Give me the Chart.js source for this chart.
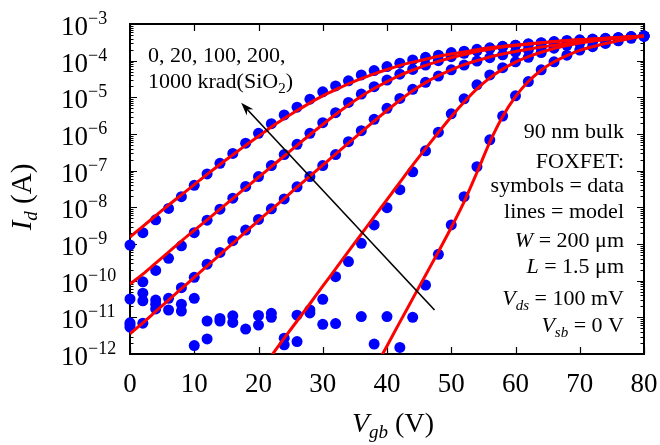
<!DOCTYPE html>
<html>
<head>
<meta charset="utf-8">
<script src="https://cdn.jsdelivr.net/npm/chart.js@4.4.1/dist/chart.umd.min.js"></script>
<style>
  html, body { margin: 0; padding: 0; background: #fff; }
  #wrap { width: 660px; height: 445px; position: relative; }
</style>
</head>
<body>
<div id="wrap"><canvas id="chart"></canvas></div>
<script>
// Gate voltage sweep (V)
const vgb = [0, 2, 4, 6, 8, 10, 12, 14, 16, 18, 20, 22, 24, 26, 28, 30, 32, 34, 36, 38, 40,
  42, 44, 46, 48, 50, 52, 54, 56, 58, 60, 62, 64, 66, 68, 70, 72, 74, 76, 78, 80];

// Measured log10(Id / A) for each dose, null = below the axis
const data1000 = [-9.03, -8.69, -8.34, -8.03, -7.71, -7.40, -7.09, -6.80, -6.53, -6.25,
  -5.98, -5.72, -5.48, -5.27, -5.05, -4.85, -4.69, -4.55, -4.39, -4.27,
  -4.16, -4.07, -3.98, -3.91, -3.85, -3.78, -3.74, -3.69, -3.65, -3.61,
  -3.58, -3.55, -3.52, -3.49, -3.47, -3.45, -3.42, -3.40, -3.38, -3.35, -3.33];
const data200 = [-10.50, -10.03, -9.72, -9.39, -9.05, -8.69, -8.35, -8.05, -7.75, -7.43,
  -7.16, -6.86, -6.56, -6.28, -5.98, -5.69, -5.42, -5.14, -4.91, -4.71,
  -4.53, -4.37, -4.24, -4.12, -4.00, -3.89, -3.80, -3.73, -3.67, -3.62,
  -3.58, -3.54, -3.51, -3.48, -3.45, -3.43, -3.41, -3.39, -3.37, -3.35, -3.33];
const data100 = [-11.20, -11.16, -10.77, -10.48, -10.19, -9.91, -9.55, -9.23, -8.91, -8.62,
  -8.33, -8.04, -7.77, -7.44, -7.16, -6.86, -6.56, -6.21, -5.91, -5.60,
  -5.30, -5.03, -4.78, -4.59, -4.42, -4.25, -4.12, -4.01, -3.92, -3.84,
  -3.77, -3.70, -3.64, -3.58, -3.53, -3.49, -3.45, -3.41, -3.38, -3.35, -3.33];
const data20 = [-11.27, -10.34, -10.53, -10.80, -10.64, -10.48, -11.10, -11.03, -10.96, -11.32,
  -10.95, -10.89, -11.57, -10.94, -10.80, -10.51, -9.89, -9.48, -8.98, -8.48,
  -8.01, -7.52, -7.03, -6.46, -5.95, -5.45, -5.04, -4.66, -4.39, -4.19,
  -4.03, -3.91, -3.78, -3.66, -3.58, -3.52, -3.47, -3.42, -3.38, -3.35, -3.33];
const data0 = [-11.15, -10.55, -10.64, null, -10.83, -11.77, -11.59, -11.10, -11.14, null,
  -11.21, -11.00, -11.75, -11.66, -10.88, -11.19, -11.17, null, -10.98, -11.73,
  -10.98, -11.82, -11.00, -10.12, -9.28, -8.48, -7.71, -6.89, -6.16, -5.51,
  -4.96, -4.57, -4.25, -4.03, -3.85, -3.71, -3.62, -3.53, -3.46, -3.39, -3.33];

// Model curves, log10(Id / A)
const model1000 = [-8.81, -8.52, -8.23, -7.94, -7.66, -7.38, -7.10, -6.83, -6.57, -6.31,
  -6.06, -5.81, -5.58, -5.36, -5.15, -4.96, -4.79, -4.63, -4.49, -4.36,
  -4.24, -4.13, -4.04, -3.96, -3.88, -3.82, -3.76, -3.70, -3.65, -3.61,
  -3.57, -3.54, -3.51, -3.48, -3.45, -3.43, -3.41, -3.39, -3.37, -3.35, -3.33];
const model200 = [-10.09, -9.82, -9.52, -9.22, -8.92, -8.63, -8.34, -8.05, -7.76, -7.47,
  -7.18, -6.89, -6.60, -6.31, -6.02, -5.74, -5.47, -5.21, -4.97, -4.76,
  -4.57, -4.40, -4.26, -4.13, -4.02, -3.92, -3.83, -3.75, -3.69, -3.63,
  -3.59, -3.55, -3.51, -3.48, -3.45, -3.43, -3.41, -3.39, -3.37, -3.35, -3.33];
const model100 = [-11.45, -11.15, -10.84, -10.53, -10.22, -9.91, -9.60, -9.29, -8.98, -8.67,
  -8.36, -8.06, -7.76, -7.45, -7.15, -6.85, -6.55, -6.25, -5.95, -5.65,
  -5.36, -5.08, -4.82, -4.60, -4.41, -4.25, -4.11, -4.00, -3.90, -3.82,
  -3.75, -3.69, -3.63, -3.58, -3.53, -3.49, -3.45, -3.41, -3.38, -3.35, -3.33];
const model20 = [null, null, null, null, null, null, null, null, null, null,
  null, -12.05, -11.57, -11.10, -10.63, -10.15, -9.68, -9.20, -8.73, -8.26,
  -7.79, -7.32, -6.85, -6.40, -5.96, -5.53, -5.13, -4.77, -4.47, -4.23,
  -4.04, -3.89, -3.77, -3.67, -3.59, -3.52, -3.47, -3.42, -3.38, -3.35, -3.33];
const model0 = [null, null, null, null, null, null, null, null, null, null,
  null, null, null, null, null, null, null, null, null, -12.42,
  -11.78, -11.13, -10.49, -9.85, -9.21, -8.55, -7.85, -7.05, -6.22, -5.52,
  -4.98, -4.57, -4.26, -4.03, -3.86, -3.72, -3.62, -3.53, -3.46, -3.39, -3.33];

// Tick labels
const xTicks = [0, 10, 20, 30, 40, 50, 60, 70, 80];
const yTickExps = [-3, -4, -5, -6, -7, -8, -9, -10, -11, -12];

const SERIF = '"Liberation Serif", "Times New Roman", serif';
function font(size, italic) {
  return (italic ? 'italic ' : '') + size + 'px ' + SERIF;
}

function toPoints(logs) {
  return vgb.map((v, i) => ({ x: v, y: logs[i] === null ? null : Math.pow(10, logs[i]) }));
}

function modelSet(logs) {
  return {
    data: toPoints(logs),
    showLine: true,
    borderColor: '#ff0000',
    borderWidth: 3,
    pointRadius: 0,
    cubicInterpolationMode: 'monotone'
  };
}

function dataSet(logs) {
  return {
    data: toPoints(logs),
    showLine: false,
    pointRadius: 5.5,
    pointBackgroundColor: '#0000ff',
    pointBorderWidth: 0,
    clip: false
  };
}

// draw a run of text pieces with mixed fonts / sub- and superscripts
function drawRich(ctx, parts, x, y, align) {
  let total = 0;
  parts.forEach(p => {
    ctx.font = p.font;
    p.w = ctx.measureText(p.text).width;
    total += p.w;
  });
  let cx = align === 'right' ? x - total : align === 'center' ? x - total / 2 : x;
  parts.forEach(p => {
    ctx.font = p.font;
    ctx.fillText(p.text, cx, y + (p.dy || 0));
    cx += p.w;
  });
}

const framePlugin = {
  id: 'frame',
  beforeDatasetsDraw(chart) {
    const ctx = chart.ctx;
    const a = chart.chartArea;
    const xs = chart.scales.x;
    const ys = chart.scales.y;
    ctx.save();
    ctx.strokeStyle = '#000';
    ctx.lineWidth = 2;
    ctx.strokeRect(a.left, a.top, a.right - a.left, a.bottom - a.top);

    ctx.lineWidth = 1.2;
    ctx.beginPath();
    xTicks.forEach(t => {
      const px = Math.round(xs.getPixelForValue(t)) + 0.5;
      ctx.moveTo(px, a.bottom); ctx.lineTo(px, a.bottom - 7);
      ctx.moveTo(px, a.top); ctx.lineTo(px, a.top + 7);
    });
    yTickExps.forEach(e => {
      const py = Math.round(ys.getPixelForValue(Math.pow(10, e))) + 0.5;
      ctx.moveTo(a.left, py); ctx.lineTo(a.left + 7, py);
      ctx.moveTo(a.right, py); ctx.lineTo(a.right - 7, py);
      if (e > -12) {
        for (let m = 2; m <= 9; m++) {
          const pm = Math.round(ys.getPixelForValue(m * Math.pow(10, e - 1))) + 0.5;
          ctx.moveTo(a.left, pm); ctx.lineTo(a.left + 3.5, pm);
          ctx.moveTo(a.right, pm); ctx.lineTo(a.right - 3.5, pm);
        }
      }
    });
    ctx.stroke();
    ctx.restore();
  },
  afterDatasetsDraw(chart) {
    const ctx = chart.ctx;
    const a = chart.chartArea;
    const xs = chart.scales.x;
    const ys = chart.scales.y;
    ctx.save();
    ctx.fillStyle = '#000';
    ctx.textBaseline = 'alphabetic';
    ctx.textAlign = 'left';

    // x tick labels
    xTicks.forEach(t => {
      drawRich(ctx, [{ text: String(t), font: font(27) }], xs.getPixelForValue(t), a.bottom + 38, 'center');
    });
    // y tick labels: 10 with a raised exponent
    yTickExps.forEach(e => {
      const py = ys.getPixelForValue(Math.pow(10, e));
      drawRich(ctx, [
        { text: '10', font: font(27) },
        { text: '\u2212' + Math.abs(e), font: font(18), dy: -11 }
      ], 61, py + 11, 'left');
    });

    // axis titles
    drawRich(ctx, [
      { text: 'V', font: font(28, true) },
      { text: 'gb', font: font(19, true), dy: 6 },
      { text: ' (V)', font: font(28) }
    ], 393, 432, 'center');

    ctx.save();
    ctx.translate(31, 197);
    ctx.rotate(-Math.PI / 2);
    drawRich(ctx, [
      { text: 'I', font: font(29, true) },
      { text: 'd', font: font(19, true), dy: 6 },
      { text: ' (A)', font: font(29) }
    ], 0, 0, 'center');
    ctx.restore();

    // dose annotation + arrow
    drawRich(ctx, [{ text: '0, 20, 100, 200,', font: font(22) }], 148, 62, 'left');
    drawRich(ctx, [
      { text: '1000 krad(SiO', font: font(22) },
      { text: '2', font: font(15), dy: 5 },
      { text: ')', font: font(22) }
    ], 148, 88, 'left');

    const x0 = xs.getPixelForValue(47.4), y0 = ys.getPixelForValue(Math.pow(10, -10.8));
    const x1 = xs.getPixelForValue(17.3), y1 = ys.getPixelForValue(Math.pow(10, -5.15));
    const ang = Math.atan2(y1 - y0, x1 - x0);
    ctx.strokeStyle = '#000';
    ctx.lineWidth = 1.6;
    ctx.beginPath();
    ctx.moveTo(x0, y0);
    ctx.lineTo(x1 - 8 * Math.cos(ang), y1 - 8 * Math.sin(ang));
    ctx.stroke();
    ctx.beginPath();
    ctx.moveTo(x1, y1);
    ctx.lineTo(x1 - 13 * Math.cos(ang) + 4.5 * Math.sin(ang), y1 - 13 * Math.sin(ang) - 4.5 * Math.cos(ang));
    ctx.lineTo(x1 - 9 * Math.cos(ang), y1 - 9 * Math.sin(ang));
    ctx.lineTo(x1 - 13 * Math.cos(ang) - 4.5 * Math.sin(ang), y1 - 13 * Math.sin(ang) + 4.5 * Math.cos(ang));
    ctx.closePath();
    ctx.fill();

    // device notes, right aligned
    const rx = 624;
    const f22 = font(22), i22 = font(22, true), sub = font(15, true);
    drawRich(ctx, [{ text: '90 nm bulk', font: f22 }], rx, 138, 'right');
    drawRich(ctx, [{ text: 'FOXFET:', font: f22 }], rx, 168, 'right');
    drawRich(ctx, [{ text: 'symbols = data', font: f22 }], rx, 192, 'right');
    drawRich(ctx, [{ text: 'lines = model', font: f22 }], rx, 218, 'right');
    drawRich(ctx, [{ text: 'W', font: i22 }, { text: ' = 200 \u03bcm', font: f22 }], rx, 247, 'right');
    drawRich(ctx, [{ text: 'L', font: i22 }, { text: ' = 1.5 \u03bcm', font: f22 }], rx, 273, 'right');
    drawRich(ctx, [
      { text: 'V', font: i22 }, { text: 'ds', font: sub, dy: 5 }, { text: ' = 100 mV', font: f22 }
    ], rx, 305, 'right');
    drawRich(ctx, [
      { text: 'V', font: i22 }, { text: 'sb', font: sub, dy: 5 }, { text: ' = 0 V', font: f22 }
    ], rx, 332, 'right');
    ctx.restore();
  }
};

new Chart(document.getElementById('chart'), {
  type: 'scatter',
  data: {
    // model lines first so they sit on top of the symbols
    datasets: [
      modelSet(model1000), modelSet(model200), modelSet(model100), modelSet(model20), modelSet(model0),
      dataSet(data1000), dataSet(data200), dataSet(data100), dataSet(data20), dataSet(data0)
    ]
  },
  options: {
    responsive: true,
    maintainAspectRatio: false,
    animation: false,
    layout: { padding: { left: 130, top: 24, right: 16, bottom: 91 } },
    plugins: { legend: { display: false }, tooltip: { enabled: false } },
    scales: {
      x: { type: 'linear', min: 0, max: 80, display: false },
      y: { type: 'logarithmic', min: 1e-12, max: 1e-3, display: false }
    }
  },
  plugins: [framePlugin]
});
</script>
</body>
</html>
